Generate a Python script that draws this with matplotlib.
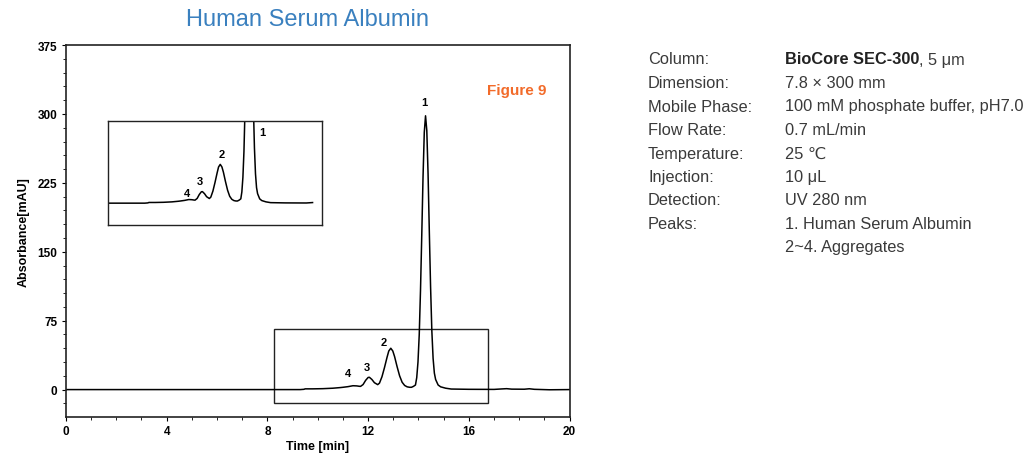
import numpy as np
from matplotlib import pyplot as plt
from matplotlib.patches import Rectangle

# chromatogram (time in min, absorbance in mAU)
time = [0.0, 7.6, 9.3, 9.45, 9.5, 9.8, 10.2, 10.6, 10.9, 11.0, 11.2, 11.4, 11.55, 11.65,
        11.7, 11.8, 11.9, 12.0, 12.05, 12.15, 12.25, 12.38,
        12.45, 12.55, 12.65, 12.75, 12.82, 12.9, 12.98, 13.05, 13.15, 13.25, 13.35,
        13.45, 13.55, 13.65, 13.72, 13.8, 13.88, 13.93, 13.98, 14.03, 14.08, 14.13,
        14.18, 14.23, 14.28, 14.33, 14.38, 14.43, 14.48, 14.53, 14.58, 14.63, 14.68,
        14.78, 14.88, 15.08, 15.3, 16.0, 17.0, 17.3, 17.5, 17.7, 18.2, 18.4, 18.6,
        19.2, 20.0]
signal = [0.0, 0.0, 0.0, 0.3, 0.8, 0.8, 1.0, 1.5, 2.2, 2.5, 3.2, 4.2, 4.0, 3.6,
          3.5, 5.5, 10.0, 13.2, 13.4, 11.0, 7.5, 5.4,
          7.0, 14.0, 24.0, 35.0, 42.0, 45.0, 42.0, 36.0, 25.0, 15.0, 8.0,
          4.5, 3.0, 2.5, 2.5, 3.5, 5.0, 13.0, 30.0, 60.0, 108.0, 168.0,
          231.0, 280.0, 298.0, 282.0, 235.0, 172.0, 112.0, 64.0, 34.0, 18.0, 11.0,
          5.0, 3.0, 1.5, 0.6, 0.3, 0.2, 0.7, 1.0, 0.5, 0.4, 0.9, 0.3,
          -0.2, 0.0]

peak_names = ['1', '2', '3', '4']
label_pos_main = [(14.25, 313), (12.62, 52), (11.96, 25), (11.22, 18)]
label_pos_inset = [(14.9, 83), (12.95, 57), (11.95, 26), (11.3, 12)]

info_keys = ['Column:', 'Dimension:', 'Mobile Phase:', 'Flow Rate:', 'Temperature:',
             'Injection:', 'Detection:', 'Peaks:', '']
info_vals = [', 5 \u03bcm', '7.8 \u00d7 300 mm', '100 mM phosphate buffer, pH7.0',
             '0.7 mL/min', '25 \u2103', '10 \u03bcL', 'UV 280 nm',
             '1. Human Serum Albumin', '2~4. Aggregates']

plt.rcParams['font.family'] = ['Liberation Sans', 'DejaVu Sans']

fig = plt.figure(figsize=(10.3, 4.56), dpi=100)
ax = fig.add_axes([0.064, 0.083, 0.489, 0.816])
t = np.array(time)
s = np.array(signal)
ax.plot(t, s, color='black', linewidth=1.1)
ax.set_xlim(0, 20)
ax.set_ylim(-30, 375)
ax.set_xticks([0, 4, 8, 12, 16, 20])
ax.set_yticks([0, 75, 150, 225, 300, 375])
ax.set_xticks(np.arange(0, 21, 1), minor=True)
ax.set_yticks(np.arange(-15, 376, 15), minor=True)
ax.tick_params(which='major', length=3, width=0.8, labelsize=8.5, pad=3)
ax.tick_params(which='minor', length=2, width=0.6)
for lab in ax.get_xticklabels() + ax.get_yticklabels():
    lab.set_fontweight('bold')
for sp in ax.spines.values():
    sp.set_linewidth(1.2)
    sp.set_color('#222222')
ax.set_xlabel('Time [min]', fontsize=9, fontweight='bold', labelpad=2)
ax.set_ylabel('Absorbance[mAU]', fontsize=9, fontweight='bold', labelpad=6)

ax.add_patch(Rectangle((8.25, -15), 8.52, 81, fill=False, edgecolor='#222222', linewidth=1.0))
for name, (x, y) in zip(peak_names, label_pos_main):
    ax.text(x, y, name, fontsize=8, fontweight='bold', ha='center', va='center')

ax.text(0.895, 0.88, 'Figure 9', transform=ax.transAxes, color='#f26b2a',
        fontsize=11, fontweight='bold', ha='center', va='center')

# zoomed inset
ins = fig.add_axes([108 / 1030, 1 - 225.7 / 456, 214 / 1030, 103.4 / 456])
keep = (t >= 7.6) & (t <= 17.3)
ins.plot(t[keep], s[keep], color='black', linewidth=1.1)
ins.set_xlim(7.55, 17.75)
ins.set_ylim(-25, 95)
ins.set_xticks([])
ins.set_yticks([])
for sp in ins.spines.values():
    sp.set_linewidth(1.0)
    sp.set_color('#222222')
for name, (x, y) in zip(peak_names, label_pos_inset):
    ins.text(x, y, name, fontsize=8, fontweight='bold', ha='center', va='center')

fig.text(307 / 1030, 1 - 20 / 456, 'Human Serum Albumin', color='#3a80bf',
         fontsize=17, ha='center', va='center')

# conditions block
y0 = 60
dy = 23.5
fs = 11.8
txt_color = '#3a3a3a'
for i, (k, v) in enumerate(zip(info_keys, info_vals)):
    yy = 1 - (y0 + i * dy) / 456
    fig.text(648 / 1030, yy, k, fontsize=fs, color=txt_color, va='center')
    if i == 0:
        b = fig.text(785 / 1030, yy, 'BioCore SEC-300', fontsize=fs, color='#222222',
                     fontweight='bold', va='center')
        fig.canvas.draw()
        ext = b.get_window_extent(renderer=fig.canvas.get_renderer())
        fig.text(ext.x1 / fig.bbox.width, yy, v, fontsize=fs, color=txt_color, va='center')
    else:
        fig.text(785 / 1030, yy, v, fontsize=fs, color=txt_color, va='center')

fig.savefig('out.png', dpi=100)
